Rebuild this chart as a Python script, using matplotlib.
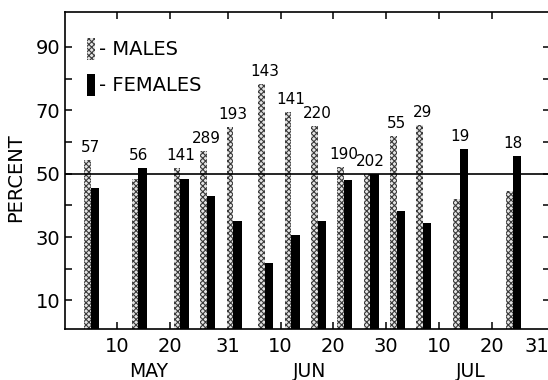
import matplotlib.pyplot as plt
import matplotlib.transforms as mtransforms

# sampling dates as days counted from 30 April (May 10 = 10, Jun 10 = 41, Jul 10 = 71)
days = [5, 14, 22, 27, 32, 38, 43, 48, 53, 58, 63, 68, 75, 85]
n_sample = [57, 56, 141, 289, 193, 143, 141, 220, 190, 202, 55, 29, 19, 18]
males = [54.4, 48.2, 51.8, 57.1, 64.8, 78.3, 69.5, 65.0, 52.1, 50.0, 61.8, 65.5, 42.1, 44.4]
females = [45.6, 51.8, 48.2, 42.9, 35.2, 21.7, 30.5, 35.0, 47.9, 50.0, 38.2, 34.5, 57.9, 55.6]

tick_days = [10, 20, 31, 41, 51, 61, 71, 81, 92]
tick_labels = ['10', '20', '31', '10', '20', '30', '10', '20', '31']
months = ['MAY', 'JUN', 'JUL']
month_pos = [16, 46.5, 77]

plt.rcParams['font.family'] = 'DejaVu Sans'
plt.rcParams['hatch.linewidth'] = 0.8

fig = plt.figure(figsize=(5.48, 3.80), dpi=100)
ax = fig.add_axes([64.5 / 548, 1 - 329 / 380, 485 / 548, 317 / 380])

w_m, w_f = 1.25, 1.6
xm = [d - w_m / 2 for d in days]
xf = [d + w_f / 2 for d in days]
# stippled males, solid black females
mb = ax.bar(xm, males, width=w_m, color='#e4e4e4', edgecolor='#3a3a3a',
            hatch='xxxxxx', linewidth=0, zorder=2)
fb = ax.bar(xf, females, width=w_f, color='black', linewidth=0, zorder=2)

ax.axhline(50, color='black', lw=1.2, zorder=3)

for d, n, m, f in zip(days, n_sample, males, females):
    ax.annotate(str(n), xy=(d, max(m, f)), xytext=(0, 3.5),
                textcoords='offset points', ha='center', va='bottom', fontsize=11)

ax.set_xlim(0, 92)
ax.set_ylim(1, 101)
ax.set_yticks(range(10, 100, 10))
ax.set_yticklabels(['10', '', '30', '', '50', '', '70', '', '90'])
ax.set_xticks(tick_days)
ax.set_xticklabels(tick_labels)
ax.tick_params(axis='both', direction='in', length=5, width=1.1,
               top=True, right=True, labelsize=14)
ax.tick_params(axis='y', pad=3)
ax.tick_params(axis='x', pad=6)
ax.get_xticklabels()[-1].set_ha('right')
for s in ax.spines.values():
    s.set_linewidth(1.2)

trans = mtransforms.blended_transform_factory(ax.transData, ax.transAxes)
for mo, p in zip(months, month_pos):
    ax.text(p, -0.135, mo, transform=trans, ha='center', va='center', fontsize=13.5)

ax.set_ylabel('PERCENT', fontsize=14)
ax.yaxis.set_label_coords(-0.081, 0.479)

ax.legend([mb, fb], ['- MALES', '- FEMALES'], loc='upper left',
          bbox_to_anchor=(0.046, 0.918), frameon=False, fontsize=14,
          handlelength=0.42, handleheight=1.35, handletextpad=0.2,
          labelspacing=0.72, borderaxespad=0, borderpad=0)

fig.savefig('out.png', dpi=100)
